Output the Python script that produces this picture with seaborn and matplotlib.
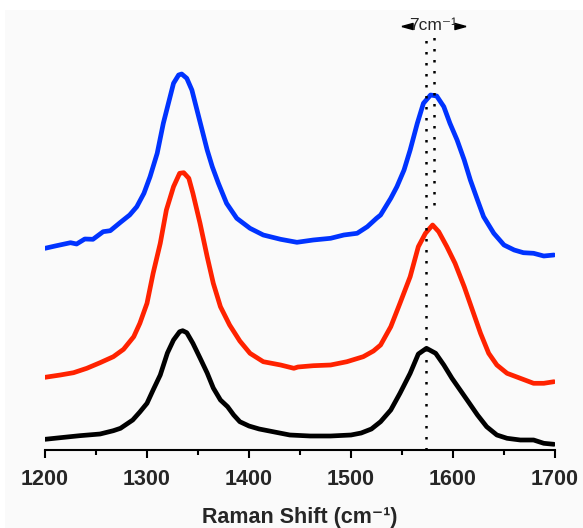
import matplotlib
matplotlib.use("Agg")
import matplotlib.pyplot as plt
import seaborn as sns
import pandas as pd
from matplotlib.patches import Rectangle

# ---- data (Raman shift in cm^-1, intensity in arbitrary offset units) ----
black_x = [1200, 1215, 1234, 1254, 1267, 1274, 1286, 1293, 1300, 1306, 1313, 1320, 1326,
           1332, 1335, 1339, 1345, 1352, 1359, 1365, 1372, 1379, 1385, 1391, 1400, 1410,
           1420, 1440, 1460, 1480, 1500, 1510, 1520, 1529, 1539, 1548, 1558, 1566, 1574,
           1583, 1591, 1599, 1607, 1615, 1624, 1633, 1643, 1653, 1666, 1679, 1689, 1699]
black_y = [10.7, 12.3, 14.3, 16, 19.3, 21.7, 30, 38, 46.7, 60, 75, 97, 110,
           118.3, 119.3, 117.3, 106.7, 92, 77, 62, 50, 43.3, 35, 28.3, 24, 21,
           19, 15, 14, 14, 15, 17, 21, 28.3, 40, 56.7, 76.7, 96, 101.7,
           96.7, 85, 71.7, 60, 48.3, 35, 23.3, 15, 11.7, 10, 10, 6.7, 5.7]

red_x = [1200, 1215, 1228, 1241, 1254, 1267, 1277, 1287, 1293, 1300, 1306, 1313, 1319,
         1326, 1332, 1336, 1341, 1345, 1352, 1359, 1365, 1372, 1381, 1391, 1401, 1414,
         1431, 1444, 1448, 1463, 1480, 1496, 1512, 1522, 1529, 1539, 1548, 1558, 1566,
         1573, 1580, 1586, 1594, 1602, 1611, 1619, 1627, 1635, 1643, 1653, 1666, 1679,
         1689, 1699]
red_y = [72.7, 75, 77.3, 81.7, 87.3, 93.3, 100.7, 113.3, 126.7, 146.7, 176.7, 206.7, 240,
         263.3, 276.7, 277.3, 271.7, 256.7, 226.7, 193.3, 166.7, 143.3, 125, 109, 96.7, 88.3,
         85, 81.7, 83, 84.3, 85, 88.3, 93.3, 99, 105, 123.3, 146.7, 173.3, 203.3,
         216.7, 225, 218.3, 203.3, 186.7, 163.3, 140, 116.7, 96.7, 85, 76.7, 71.7, 66.7,
         66.7, 68.3]

blue_x = [1200, 1210, 1225, 1231, 1239, 1247, 1257, 1264, 1274, 1283, 1290, 1297, 1303,
          1310, 1316, 1321, 1326, 1331, 1334, 1339, 1344, 1349, 1354, 1359, 1364, 1370,
          1378, 1388, 1401, 1414, 1431, 1447, 1463, 1480, 1493, 1506, 1516, 1525, 1529,
          1539, 1545, 1552, 1558, 1565, 1571, 1578, 1584, 1591, 1597, 1604, 1611, 1617,
          1624, 1630, 1640, 1650, 1660, 1669, 1679, 1689, 1699]
blue_y = [201.7, 204, 207.3, 206, 211, 210.7, 218.3, 219.3, 227.7, 235, 243.3, 256.7, 273.3,
          296.7, 326.7, 346.7, 366.7, 375, 376, 371.7, 360, 340, 320, 300, 283.3, 266.7,
          246.7, 231.7, 221.7, 215, 210.7, 207.7, 210, 211.7, 215, 216.7, 223.3, 231.7, 235,
          251.7, 263.3, 280, 300, 326.7, 346.7, 355, 354, 343.3, 326.7, 310, 290, 270,
          250, 233.3, 216.7, 205, 200, 197.3, 196.7, 194, 195]

series_colors = {"black": "#000000", "red": "#ff2200", "blue": "#0033ff"}

marker_x = [1574, 1581]          # dotted peak markers
marker_top = [413, 413]
marker_bottom = [0, 245]
shift_label = "7cm\u207b\u00b9"
x_ticks = [1200, 1300, 1400, 1500, 1600, 1700]
x_label = "Raman Shift (cm\u207b\u00b9)"

# ---- build long table ----
frames = []
for name, xs, ys in [("black", black_x, black_y), ("red", red_x, red_y), ("blue", blue_x, blue_y)]:
    frames.append(pd.DataFrame({"shift": xs, "intensity": ys, "sample": name}))
df = pd.concat(frames, ignore_index=True)

sns.set_theme(style="white")
plt.rcParams["font.family"] = ["Liberation Sans", "DejaVu Sans"]

W, H = 583, 528
fig = plt.figure(figsize=(W / 100, H / 100), dpi=100, facecolor="white")
fig.patches.append(Rectangle((5 / W, 0), 1 - 5 / W, (H - 10) / H, transform=fig.transFigure,
                             facecolor="#fafafa", edgecolor="none", zorder=-10))
ax = fig.add_axes([45 / W, (H - 450) / H, 510 / W, 420 / H])
ax.set_facecolor("none")

sns.lineplot(data=df, x="shift", y="intensity", hue="sample", palette=series_colors,
             estimator=None, sort=True, linewidth=3.4, legend=False, ax=ax)
for ln in ax.lines:
    ln.set_solid_joinstyle("round")
    ln.set_solid_capstyle("round")

for mx, t, b in zip(marker_x, marker_top, marker_bottom):
    ax.plot([mx, mx], [b, t], color="black", linewidth=1.8, linestyle=(0, (1, 3.4)),
            dash_capstyle="butt", clip_on=False)

ax.set_xlim(1200, 1700)
ax.set_ylim(0, 420)
ax.set_xticks(x_ticks)
ax.set_xticks(range(1250, 1700, 100), minor=True)
ax.set_yticks([])
for s in ["left", "top", "right"]:
    ax.spines[s].set_visible(False)
ax.spines["bottom"].set_linewidth(1.5)
ax.spines["bottom"].set_color("black")
ax.tick_params(axis="x", which="major", direction="out", length=6, width=1.5,
               color="black", bottom=True, labelsize=15.5, pad=8)
ax.tick_params(axis="x", which="minor", direction="out", length=3.5, width=1.5,
               color="black", bottom=True)
for lab in ax.get_xticklabels():
    lab.set_fontweight("bold")
ax.set_xlabel(x_label, fontsize=15.5, fontweight="bold", labelpad=12)
ax.set_ylabel("")

ax.text(1580.5, 425, shift_label, ha="center", va="center", fontsize=12.5, clip_on=False)
left_tri = [(-1, 0), (1, 0.55), (1, -0.55), (-1, 0)]
right_tri = [(1, 0), (-1, 0.55), (-1, -0.55), (1, 0)]
ax.plot([1555], [424], marker=left_tri, color="black", markersize=8, clip_on=False,
        linestyle="none")
ax.plot([1607], [424], marker=right_tri, color="black", markersize=8, clip_on=False,
        linestyle="none")

fig.savefig("out.png", dpi=100, facecolor=fig.get_facecolor())
